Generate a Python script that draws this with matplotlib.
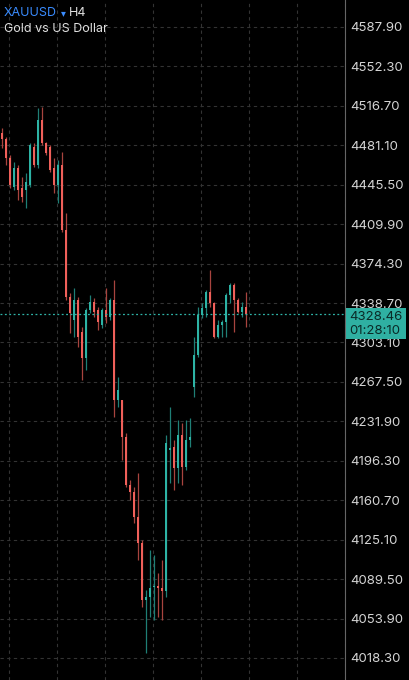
import numpy as np
import matplotlib; matplotlib.use("Agg")
import matplotlib.pyplot as plt
from matplotlib.patches import Rectangle

plt.rcParams['font.family'] = ['Inter', 'DejaVu Sans']

# H4 candles (oldest -> newest)
opens = [4492.2, 4486.8, 4469.6, 4443.5, 4460.6, 4442.6, 4440.8, 4445.3, 4479.6, 4463.3,
         4503.9, 4483.2, 4479.6, 4460.6, 4445.3, 4463.3, 4404.7, 4344.2, 4323.4, 4341.5,
         4312.6, 4289.1, 4332.4, 4339.7, 4332.4, 4318.9, 4332.4, 4326.1, 4341.5, 4251.2,
         4251.2, 4217.8, 4174.5, 4168.1, 4145.6, 4122.1, 4070.7, 4073.4, 4082.4, 4083.3,
         4081.5, 4078.8, 4206.1, 4208.8, 4189.8, 4219.6, 4190.7, 4215.1, 4262.9, 4291.8,
         4327.9, 4334.2, 4348.7, 4338.8, 4308.1, 4318.9, 4321.6, 4346.0, 4355.0, 4341.5,
         4330.6, 4335.1]
highs = [4496.7, 4488.6, 4472.4, 4466.0, 4463.3, 4452.5, 4456.1, 4483.2, 4483.2, 4514.8,
         4515.7, 4484.1, 4481.4, 4469.6, 4467.8, 4475.1, 4420.0, 4347.8, 4352.3, 4344.2,
         4317.1, 4334.2, 4346.0, 4343.3, 4335.1, 4334.2, 4352.3, 4343.3, 4359.5, 4272.0,
         4251.2, 4221.4, 4179.0, 4172.7, 4185.3, 4124.8, 4079.7, 4115.8, 4111.3, 4095.0,
         4106.8, 4219.6, 4244.9, 4215.1, 4233.1, 4230.4, 4233.1, 4234.9, 4308.1, 4335.1,
         4338.8, 4350.5, 4368.5, 4339.7, 4323.4, 4323.4, 4347.8, 4356.8, 4356.8, 4343.3,
         4339.7, 4348.7]
lows = [4478.7, 4463.3, 4442.6, 4440.8, 4431.7, 4429.9, 4424.5, 4443.5, 4461.5, 4460.6,
        4481.4, 4472.4, 4457.0, 4438.1, 4429.0, 4402.8, 4341.5, 4311.7, 4308.1, 4299.0,
        4269.2, 4278.3, 4329.7, 4326.1, 4314.4, 4316.2, 4320.7, 4323.4, 4235.8, 4244.9,
        4197.0, 4172.7, 4160.9, 4140.2, 4106.8, 4064.3, 4022.8, 4055.3, 4052.6, 4055.3,
        4052.6, 4073.4, 4176.3, 4170.0, 4176.3, 4174.5, 4188.0, 4208.8, 4253.9, 4290.0,
        4325.2, 4326.1, 4335.1, 4307.2, 4307.2, 4308.1, 4308.1, 4338.8, 4312.6, 4329.7,
        4326.1, 4317.1]
closes = [4486.8, 4469.6, 4445.3, 4460.6, 4440.8, 4434.4, 4448.0, 4481.4, 4463.3, 4503.9,
          4483.2, 4474.2, 4458.8, 4445.3, 4463.3, 4404.7, 4344.2, 4329.7, 4341.5, 4308.1,
          4289.1, 4332.4, 4339.7, 4330.6, 4321.6, 4332.4, 4326.1, 4341.5, 4251.2, 4260.2,
          4217.8, 4174.5, 4168.1, 4145.6, 4122.1, 4070.7, 4073.4, 4081.5, 4083.3, 4081.5,
          4078.8, 4212.4, 4207.9, 4189.8, 4219.6, 4190.7, 4215.1, 4217.8, 4291.8, 4327.9,
          4334.2, 4348.7, 4338.8, 4308.1, 4318.9, 4321.6, 4346.0, 4355.0, 4341.5, 4330.6,
          4335.1, 4328.46]

price_ticks = [4587.90, 4552.30, 4516.70, 4481.10, 4445.50, 4409.90, 4374.30, 4338.70,
               4303.10, 4267.50, 4231.90, 4196.30, 4160.70, 4125.10, 4089.50, 4053.90, 4018.30]
last_price = 4328.46
countdown = "01:28:10"
symbol, timeframe, desc = "XAUUSD", "H4", "Gold vs US Dollar"

UP, DN = "#2db3a5", "#f0605a"
UPW, DNW = "#1f7f76", "#a8443f"
BG = "#000000"

o = np.array(opens); h = np.array(highs); l = np.array(lows); c = np.array(closes)
x = np.arange(len(o))
up = c >= o

fig = plt.figure(figsize=(4.09, 6.80), dpi=100, facecolor=BG)
ax = fig.add_axes([0, 0, 345/409, 1], facecolor=BG)

# wicks
ax.vlines(x[up], l[up], h[up], color=UPW, lw=0.9, zorder=2)
ax.vlines(x[~up], l[~up], h[~up], color=DNW, lw=0.9, zorder=2)
# bodies
body_lo = np.minimum(o, c)
body_h = np.maximum(np.abs(c - o), 1.2)
ax.bar(x[up], body_h[up], bottom=body_lo[up], width=0.7, color=UP, lw=0, zorder=3)
ax.bar(x[~up], body_h[~up], bottom=body_lo[~up], width=0.7, color=DN, lw=0, zorder=3)

# current price line
ax.axhline(last_price, color="#2fb5a8", lw=0.9, ls=(0, (1.5, 2)), zorder=4)

ax.set_xlim(-0.5, 85.75)
ax.set_ylim(3998.44, 4612.27)

ax.set_xticks(np.arange(1.75, 86, 12))
ax.set_yticks(price_ticks)
ax.set_yticklabels([f"{v:.2f}" for v in price_ticks])
ax.yaxis.tick_right()
ax.tick_params(axis="y", length=0, pad=4, labelsize=9.5, labelcolor="#d4d4d4")
ax.tick_params(axis="x", length=0, labelbottom=False)
ax.grid(True, color="#333333", lw=0.8, ls=(0, (3, 3)), zorder=0)
for s in ["top", "bottom", "left"]:
    ax.spines[s].set_visible(False)
ax.spines["right"].set_color("#666666")
ax.spines["right"].set_linewidth(0.8)

# price label box
fig.patches.append(Rectangle((346/409, 1 - 339/680), 60/409, 31/680,
                             transform=fig.transFigure, facecolor="#2fb0a2",
                             edgecolor="none", zorder=5))
fig.text(349/409, 1 - 316.5/680, f"{last_price:.2f}", fontsize=9.5, color="#0a2a27",
         va="center", ha="left", zorder=6)
fig.text(349/409, 1 - 331/680, countdown, fontsize=9.5, color="#0a2a27",
         va="center", ha="left", zorder=6)

# header
fig.text(4/409, 1 - 13/680, symbol, fontsize=9, color="#3a8cff", va="center", ha="left")
fig.text(61/409, 1 - 13/680, "\u25be", fontsize=7, color="#3a8cff", va="center", ha="left",
         family=["DejaVu Sans"])
fig.text(69/409, 1 - 13/680, timeframe, fontsize=9, color="#e0e0e0", va="center", ha="left")
fig.text(4/409, 1 - 29/680, desc, fontsize=9, color="#e0e0e0", va="center", ha="left")

fig.savefig("out.png", dpi=100, facecolor=BG)
